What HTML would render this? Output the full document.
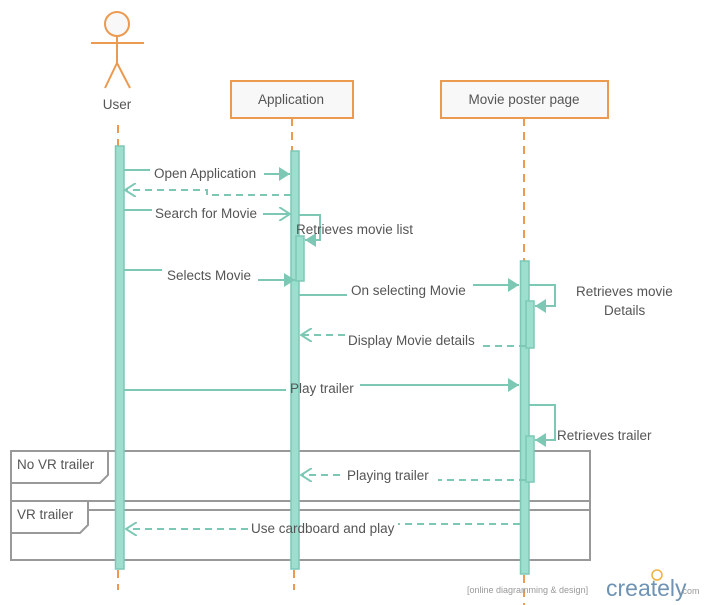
<!DOCTYPE html>
<html><head><meta charset="utf-8"><style>
html,body{margin:0;padding:0;background:#fff;}
svg{display:block;font-family:"Liberation Sans",sans-serif;}
</style></head><body>
<svg width="705" height="605" viewBox="0 0 705 605" xmlns="http://www.w3.org/2000/svg">
<defs>
<marker id="af" markerWidth="12" markerHeight="14" refX="11" refY="7" orient="auto" markerUnits="userSpaceOnUse"><path d="M0,0 L11,7 L0,14 Z" fill="#7dc8b5"/></marker>
<marker id="ao" markerWidth="12" markerHeight="14" refX="11" refY="7" orient="auto" markerUnits="userSpaceOnUse"><path d="M0,0 L11,7 L0,14" fill="none" stroke="#7dc8b5" stroke-width="2"/></marker>
</defs>
<g stroke="#ec9a4f" stroke-width="2" fill="none">
<circle cx="117" cy="24" r="12" fill="#f8f8f8"/>
<line x1="91" y1="43" x2="144" y2="43"/>
<line x1="117" y1="36" x2="117" y2="63"/>
<line x1="117" y1="63" x2="105" y2="88"/>
<line x1="117" y1="63" x2="130" y2="88"/>
<rect x="231" y="81" width="122" height="37" fill="#f8f8f8"/>
<rect x="441" y="81" width="167" height="37" fill="#f8f8f8"/>
<g stroke-dasharray="8,6">
<line x1="118" y1="125" x2="118" y2="146"/>
<line x1="292" y1="118" x2="292" y2="151"/>
<line x1="524" y1="118" x2="524" y2="261"/>
<line x1="118" y1="570" x2="118" y2="590"/>
<line x1="294" y1="570" x2="294" y2="590"/>
<line x1="524" y1="575" x2="524" y2="605"/>
</g>
</g>
<g fill="#555" font-size="13.5" text-anchor="middle">
<text x="117" y="109">User</text>
<text x="291" y="104">Application</text>
<text x="524" y="104">Movie poster page</text>
</g>
<g stroke="#999" stroke-width="2" fill="none">
<rect x="11" y="451" width="579" height="109"/>
<line x1="11" y1="501" x2="590" y2="501"/>
<line x1="88" y1="510" x2="590" y2="510"/>
<path d="M11,483 L100,483 L108,475 L108,451"/>
<path d="M11,533 L80,533 L88,525 L88,501"/>
</g>
<g fill="#555" font-size="13.5">
<text x="17" y="469">No VR trailer</text>
<text x="17" y="519">VR trailer</text>
</g>
<g fill="#9ddfcf" stroke="#7dc8b5" stroke-width="1.5">
<rect x="115.5" y="146" width="8.5" height="423"/>
<rect x="291" y="151" width="8" height="418"/>
<rect x="296" y="236" width="8" height="45"/>
<rect x="520.5" y="261" width="8.5" height="313"/>
<rect x="526" y="301" width="8" height="47"/>
<rect x="526" y="436" width="8" height="46"/>
</g>
<g stroke="#7dc8b5" stroke-width="2" fill="none">
<line x1="124" y1="170" x2="150" y2="170"/><line x1="264" y1="174" x2="290" y2="174" marker-end="url(#af)"/>
<path d="M291,195 L207,195 L207,190 L125,190" stroke-dasharray="7,5" marker-end="url(#ao)"/>
<line x1="124" y1="210" x2="152" y2="210"/><line x1="263" y1="214" x2="290" y2="214" marker-end="url(#ao)"/>
<path d="M299,215 L320,215 L320,240 L305,240" marker-end="url(#af)"/>
<line x1="124" y1="270" x2="162" y2="270"/><line x1="258" y1="280" x2="295" y2="280" marker-end="url(#af)"/>
<line x1="299" y1="295" x2="347" y2="295"/><line x1="473" y1="285" x2="519" y2="285" marker-end="url(#af)"/>
<path d="M529,285 L555,285 L555,306 L535,306" marker-end="url(#af)"/>
<line x1="345" y1="335" x2="301" y2="335" stroke-dasharray="7,5" marker-end="url(#ao)"/>
<line x1="526" y1="346" x2="481" y2="346" stroke-dasharray="7,5"/>
<line x1="124" y1="390" x2="286" y2="390"/><line x1="360" y1="385" x2="519" y2="385" marker-end="url(#af)"/>
<path d="M529,405 L555,405 L555,440 L535,440" marker-end="url(#af)"/>
<line x1="340" y1="475" x2="301" y2="475" stroke-dasharray="7,5" marker-end="url(#ao)"/>
<line x1="526" y1="480" x2="438" y2="480" stroke-dasharray="7,5"/>
<line x1="248" y1="529" x2="126" y2="529" stroke-dasharray="7,5" marker-end="url(#ao)"/>
<line x1="520" y1="524" x2="398" y2="524" stroke-dasharray="7,5"/>
</g>
<g fill="#555" font-size="13.5">
<text x="154" y="178">Open Application</text>
<text x="155" y="218">Search for Movie</text>
<text x="296" y="234">Retrieves movie list</text>
<text x="167" y="280">Selects Movie</text>
<text x="351" y="295">On selecting Movie</text>
<text x="576" y="296">Retrieves movie</text>
<text x="604" y="315">Details</text>
<text x="348" y="345">Display Movie details</text>
<text x="290" y="393">Play trailer</text>
<text x="557" y="440">Retrieves trailer</text>
<text x="347" y="480">Playing trailer</text>
<text x="251" y="533">Use cardboard and play</text>
</g>
<text x="467" y="593" font-size="9" fill="#999">[online diagramming &amp; design]</text>
<circle cx="657" cy="575" r="5" fill="none" stroke="#f0b23c" stroke-width="1.5"/>
<text x="606" y="596" font-size="23" fill="#6f93b3">creately</text>
<text x="680" y="594" font-size="9" fill="#999">.com</text>
</svg>
</body></html>
